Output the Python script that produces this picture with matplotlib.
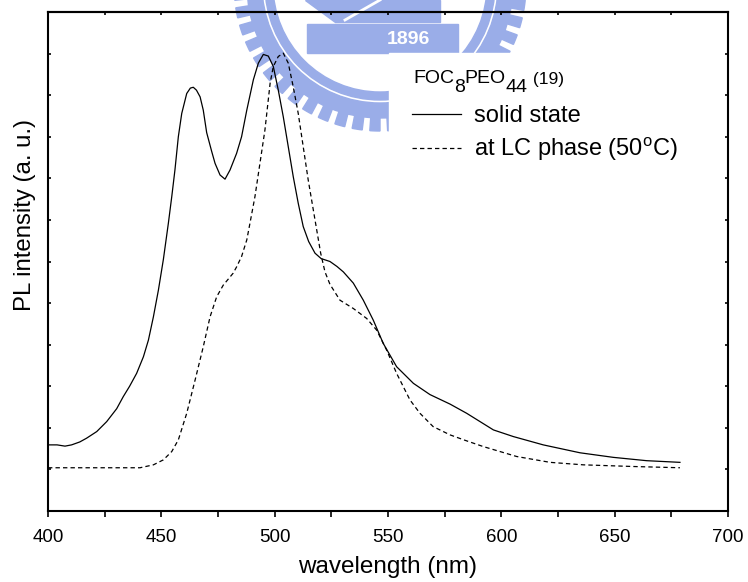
import numpy as np
import matplotlib
matplotlib.use('Agg')
from matplotlib import pyplot as plt, patches
from matplotlib.transforms import Affine2D

plt.rcParams['font.family'] = ['Liberation Sans', 'DejaVu Sans']
plt.rcParams['mathtext.fontset'] = 'custom'
plt.rcParams['mathtext.rm'] = 'Liberation Sans'

# solid state spectrum (wavelength in nm, intensity in a.u.)
solid_wl = [400, 404, 407.5, 410.4, 414, 417, 421.5, 425.9, 430.3, 433.2, 436, 439.1,
            442.1, 444.3, 446.5, 448.7, 450.9, 453.1, 454.6, 456, 457.5, 459, 461.2,
            462.8, 464.1, 465.5, 467.1, 468.5, 470, 472.2, 473.7, 475.9, 478.1, 480.3,
            483.2, 485.4, 487.7, 490.6, 492.8, 495, 497.2, 499.4, 501.6, 503.8, 506,
            508.2, 510.4, 512.6, 515, 517.8, 520.5, 524.4, 527.5, 530.3, 534.7, 539.1,
            543.5, 547.9, 553.8, 561.2, 568.5, 577.4, 584.7, 590.6, 596.5, 605.3, 618.5,
            634.7, 649.4, 664.1, 678.8]
solid_int = [1.59, 1.59, 1.56, 1.59, 1.66, 1.75, 1.91, 2.15, 2.46, 2.75, 3.0, 3.31,
             3.71, 4.11, 4.67, 5.31, 6.05, 6.92, 7.56, 8.2, 9.0, 9.56, 10.04,
             10.17, 10.19, 10.12, 9.96, 9.64, 9.1, 8.65, 8.36, 8.08, 7.98, 8.2,
             8.6, 9.0, 9.64, 10.37, 10.77, 10.98, 10.94, 10.69, 10.12, 9.48, 8.76,
             8.04, 7.4, 6.84, 6.48, 6.2, 6.07, 6.0, 5.88, 5.75, 5.48, 5.07,
             4.59, 4.03, 3.47, 3.07, 2.8, 2.57, 2.35, 2.15, 1.95, 1.79, 1.59,
             1.4, 1.29, 1.21, 1.17]

# LC phase spectrum at 50 C
lc_wl = [400, 420, 440.6, 446.5, 450.9, 454.6, 457.5, 461.2, 464.9, 468.5, 471.5, 474.4,
         477.3, 481.7, 483.2, 485.4, 487.7, 489.1, 491.3, 493.5, 495.7, 498, 499.4, 501.6,
         503.8, 506, 508.2, 510.4, 512.6, 514.8, 517.8, 520.3, 522.2, 524.4, 528.8, 534.7,
         540.6, 545, 549.4, 553.8, 559.7, 564.1, 569.9, 577.4, 584, 592, 606.8, 621.5,
         636.2, 658.2, 678.8]
lc_int = [1.04, 1.04, 1.04, 1.11, 1.23, 1.43, 1.71, 2.35, 3.15, 3.95, 4.67, 5.15,
          5.43, 5.72, 5.87, 6.12, 6.52, 6.92, 7.56, 8.36, 9.16, 10.29, 10.69, 10.93,
          11.01, 10.77, 10.2, 9.56, 8.76, 7.96, 7.0, 6.2, 5.75, 5.45, 5.07, 4.87,
          4.63, 4.35, 3.87, 3.31, 2.67, 2.35, 2.03, 1.83, 1.7, 1.55, 1.31, 1.17,
          1.11, 1.07, 1.04]

W, H = 748, 582
fig = plt.figure(figsize=(W / 100, H / 100), dpi=100)
ax = fig.add_axes([48 / W, 1 - 511 / H, 680 / W, 499 / H])
ax.set_facecolor('none')

# faint university logo watermark behind the plot (pixel coords, y up)
blue = '#9aade8'
wm_tr = Affine2D().scale(1 / W, 1 / H) + fig.transFigure
cxp, cyp = 380, H + 15
fig.add_artist(patches.Wedge((cxp, cyp), 133, 180, 360, width=15, color=blue,
                             transform=wm_tr, zorder=-2))
for ang in np.arange(184, 360, 7.0):
    fig.add_artist(patches.Wedge((cxp, cyp), 146, ang - 2.0, ang + 2.0, width=14,
                                 color=blue, transform=wm_tr, zorder=-2))
fig.add_artist(patches.Wedge((cxp, cyp), 115, 180, 360, width=8, color=blue,
                             transform=wm_tr, zorder=-2))
fig.add_artist(patches.Rectangle((307, H - 53), 151, 29, color=blue,
                                 transform=wm_tr, zorder=-2))
fig.add_artist(patches.Polygon([(305, H), (440, H), (440, H - 22), (335, H - 22)],
                               color=blue, transform=wm_tr, zorder=-2))
fig.add_artist(plt.Line2D([345, 380], [H - 20, H], color='white', lw=2,
                          transform=wm_tr, zorder=-1.5))
fig.text(408 / W, 1 - 39 / H, '1896', color='white', fontsize=14, fontweight='bold',
         ha='center', va='center', zorder=-1)

# white area behind the legend
ax.add_patch(patches.Rectangle((389, H - 200), 338, 147, color='white',
                               transform=wm_tr, zorder=1))

ax.plot(solid_wl, solid_int, color='black', lw=0.9, label='solid state', zorder=3)
ax.plot(lc_wl, lc_int, color='black', lw=0.9, ls=(0, (3.5, 2.5)),
        label=r'at LC phase (50$^{\rm o}$C)', zorder=3)

ax.set_xlim(400, 700)
ax.set_ylim(0, 12)
ax.set_xticks(np.arange(400, 701, 50))
ax.set_xticks(np.arange(425, 700, 50), minor=True)
ax.set_yticks(np.arange(0, 13, 1))
ax.set_yticklabels([])
ax.tick_params(axis='x', which='both', direction='out', length=4, width=1.2,
               labelsize=13.5, pad=9, top=False)
ax.tick_params(axis='y', which='both', direction='in', length=2.5, width=1.2,
               left=True, right=True)
secx = ax.secondary_xaxis('top')
secx.set_xticks(np.arange(400, 701, 25))
secx.set_xticklabels([])
secx.tick_params(direction='in', length=2.5, width=1.2)
for s in list(ax.spines.values()) + list(secx.spines.values()):
    s.set_linewidth(1.5)

ax.set_xlabel('wavelength (nm)', fontsize=17.5, labelpad=7)
ax.set_ylabel('PL intensity (a. u.)', fontsize=17.3)
ax.yaxis.set_label_coords(-0.017, 0.594)

# legend title with full size lowered subscripts
tsize = 14
drop = 6.5
t = ax.text((413 - 48) / 680, (511 - 83) / 499, 'FOC', transform=ax.transAxes,
            fontsize=tsize, va='baseline', ha='left', zorder=4)
for piece, dy, fs in [('8', -drop, tsize), ('PEO', drop, tsize), ('44', -drop, tsize),
                      (' (19)', drop, 12.5)]:
    t = ax.annotate(piece, xy=(1, 0), xycoords=t, xytext=(0, dy),
                    textcoords='offset points', fontsize=fs, va='bottom', ha='left',
                    zorder=4)

leg = ax.legend(loc='upper left', bbox_to_anchor=(0.535, 0.813), frameon=False,
                fontsize=17, handlelength=2.1, handletextpad=0.55,
                labelspacing=0.35, borderpad=0, borderaxespad=0)
for h in leg.get_lines():
    h.set_linewidth(0.9)

fig.savefig('out.png', dpi=100)
